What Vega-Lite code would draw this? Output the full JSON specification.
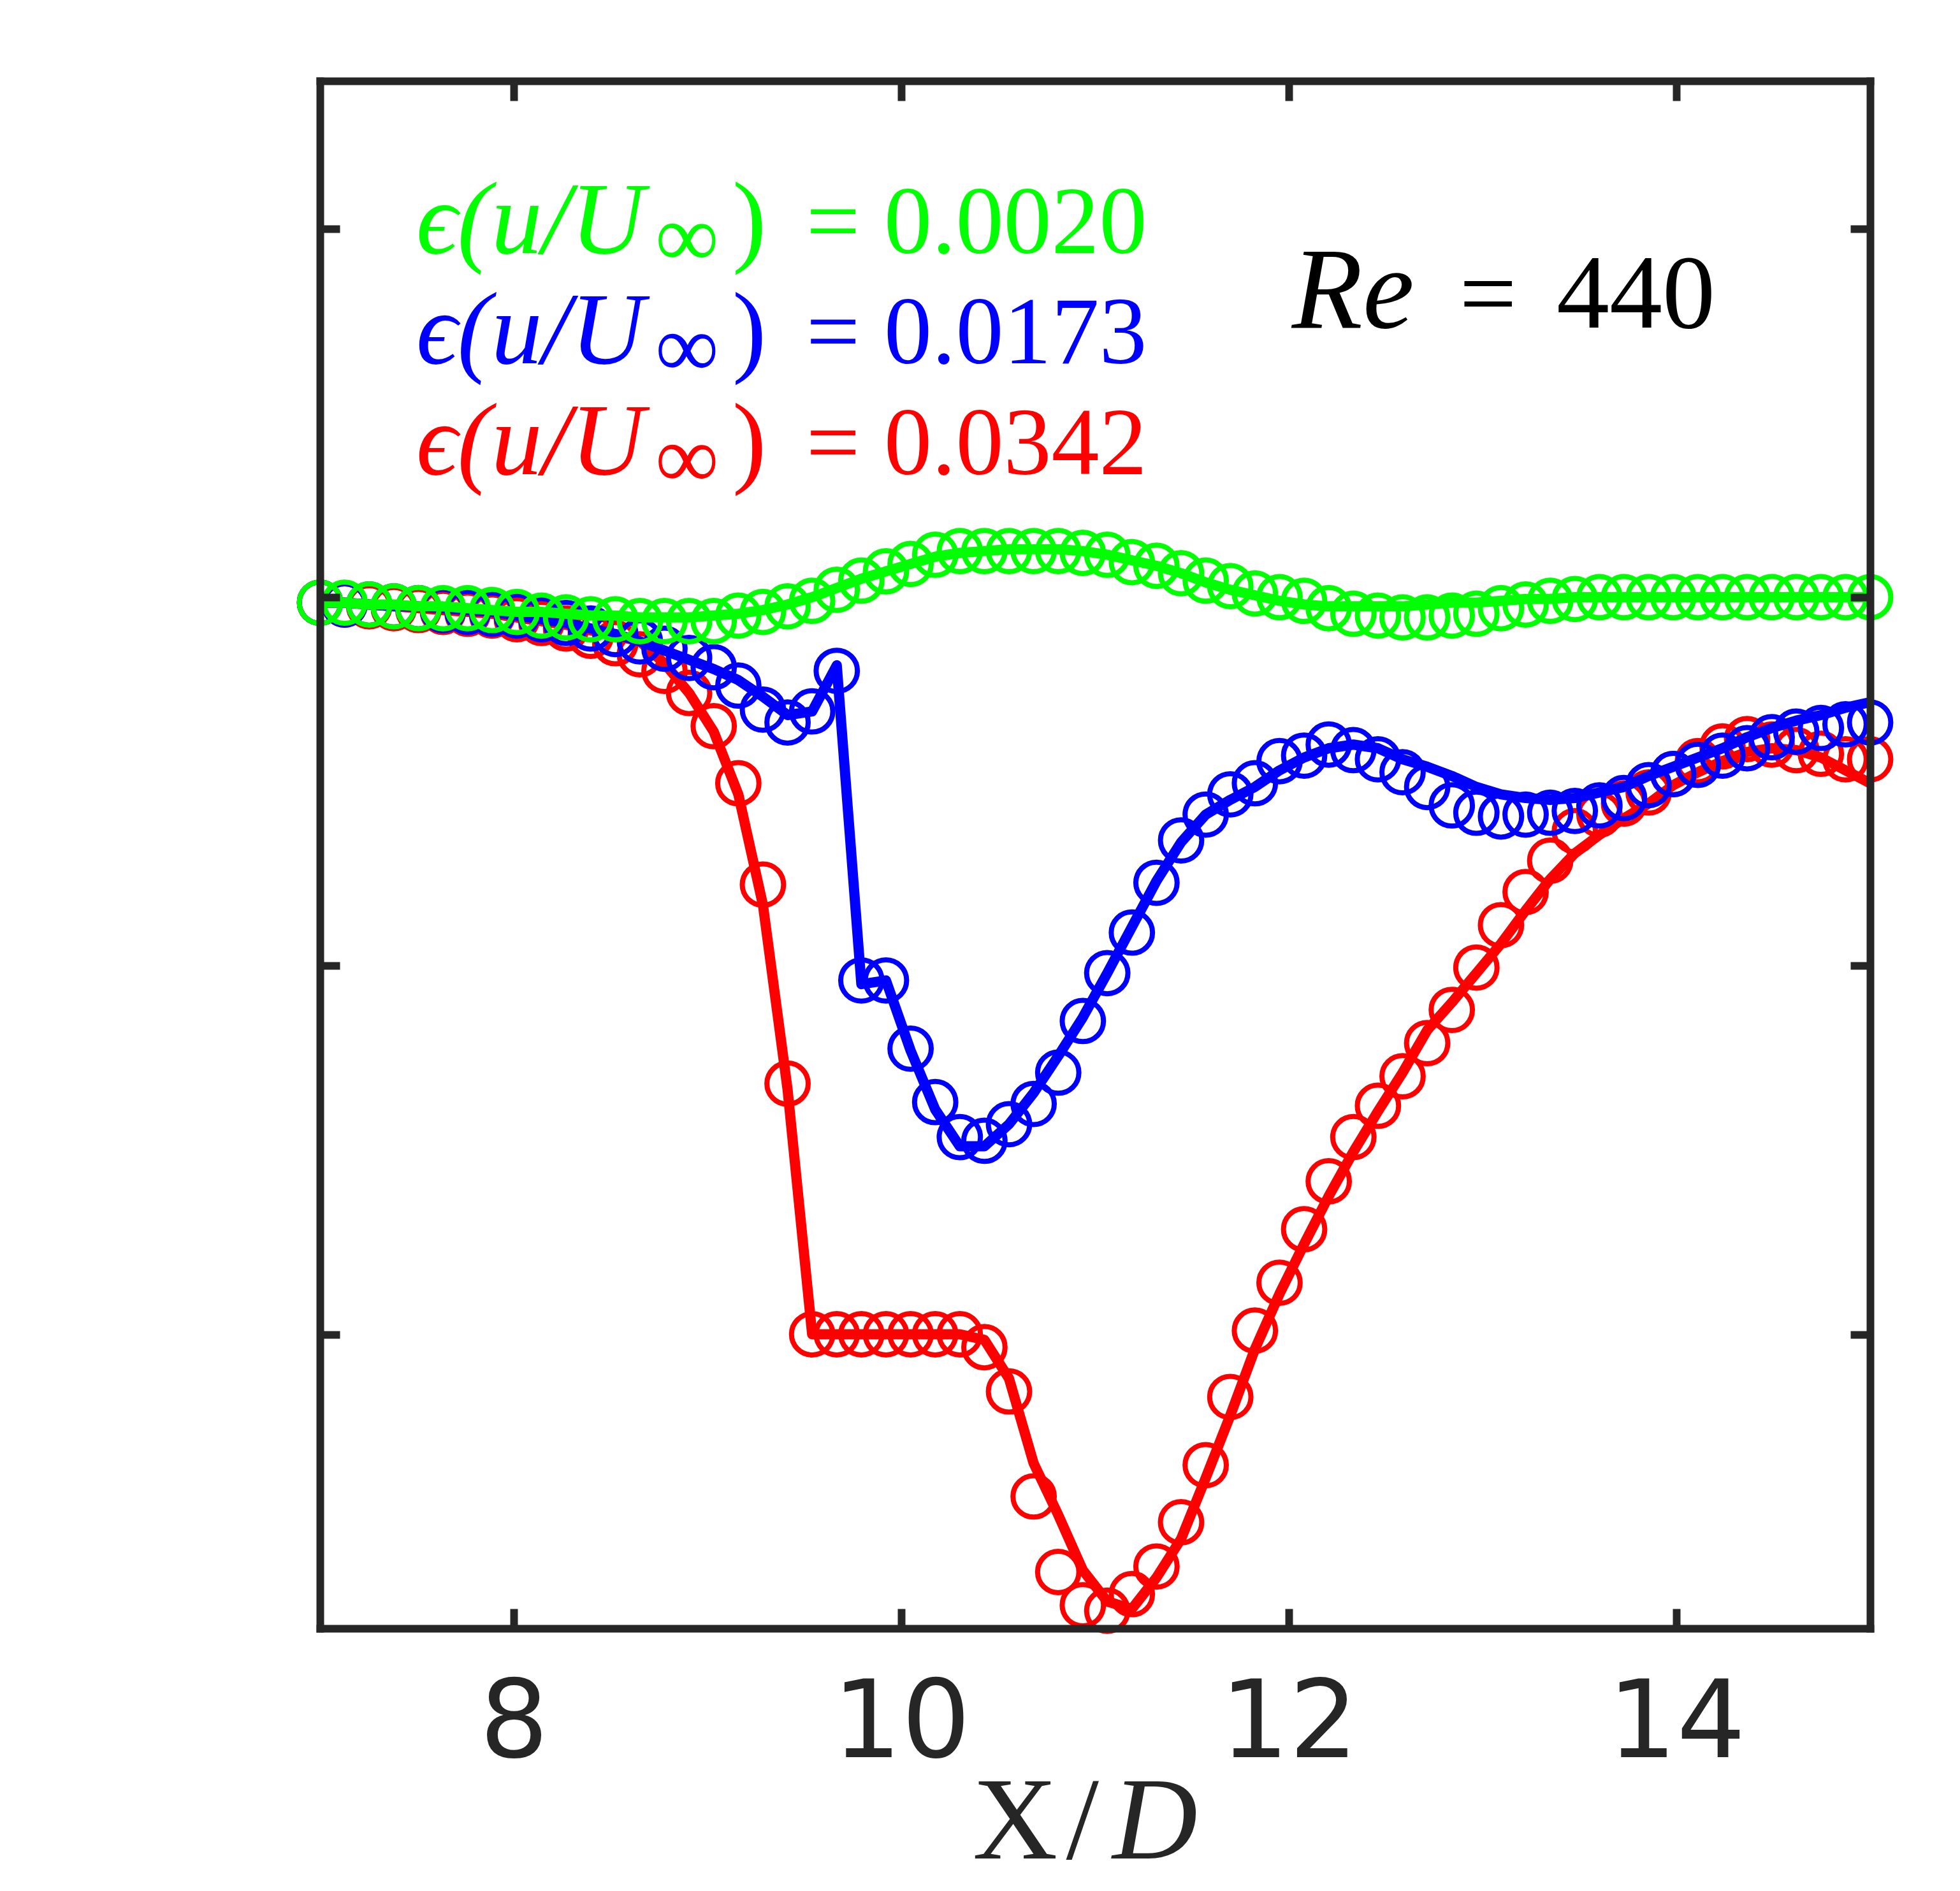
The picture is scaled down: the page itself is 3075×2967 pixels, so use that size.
{
  "$schema": "https://vega.github.io/schema/vega-lite/v6.json",
  "description": "u/U profiles along X/D at Re = 440, three error levels",
  "width": 2432,
  "height": 2428,
  "autosize": {"type": "none"},
  "padding": {"left": 502, "top": 127, "right": 141, "bottom": 412},
  "background": "white",
  "datasets": {
    "profiles": [
      {"x": 7.000, "red_circle": 0.997, "red_line": 0.997, "blue_circle": 0.997, "blue_line": 0.997, "green_circle": 0.997, "green_line": 0.997},
      {"x": 7.127, "red_circle": 0.996, "red_line": 0.997, "blue_circle": 0.996, "blue_line": 0.997, "green_circle": 0.997, "green_line": 0.997},
      {"x": 7.254, "red_circle": 0.995, "red_line": 0.996, "blue_circle": 0.996, "blue_line": 0.996, "green_circle": 0.996, "green_line": 0.996},
      {"x": 7.381, "red_circle": 0.994, "red_line": 0.995, "blue_circle": 0.995, "blue_line": 0.995, "green_circle": 0.995, "green_line": 0.996},
      {"x": 7.508, "red_circle": 0.993, "red_line": 0.994, "blue_circle": 0.994, "blue_line": 0.995, "green_circle": 0.994, "green_line": 0.995},
      {"x": 7.635, "red_circle": 0.992, "red_line": 0.993, "blue_circle": 0.993, "blue_line": 0.994, "green_circle": 0.994, "green_line": 0.995},
      {"x": 7.762, "red_circle": 0.991, "red_line": 0.992, "blue_circle": 0.992, "blue_line": 0.993, "green_circle": 0.994, "green_line": 0.994},
      {"x": 7.889, "red_circle": 0.990, "red_line": 0.991, "blue_circle": 0.991, "blue_line": 0.992, "green_circle": 0.993, "green_line": 0.993},
      {"x": 8.016, "red_circle": 0.988, "red_line": 0.989, "blue_circle": 0.990, "blue_line": 0.990, "green_circle": 0.992, "green_line": 0.992},
      {"x": 8.143, "red_circle": 0.986, "red_line": 0.987, "blue_circle": 0.988, "blue_line": 0.988, "green_circle": 0.990, "green_line": 0.992},
      {"x": 8.270, "red_circle": 0.983, "red_line": 0.985, "blue_circle": 0.986, "blue_line": 0.986, "green_circle": 0.989, "green_line": 0.991},
      {"x": 8.397, "red_circle": 0.979, "red_line": 0.982, "blue_circle": 0.983, "blue_line": 0.983, "green_circle": 0.988, "green_line": 0.990},
      {"x": 8.524, "red_circle": 0.975, "red_line": 0.979, "blue_circle": 0.980, "blue_line": 0.980, "green_circle": 0.988, "green_line": 0.990},
      {"x": 8.651, "red_circle": 0.969, "red_line": 0.976, "blue_circle": 0.976, "blue_line": 0.976, "green_circle": 0.987, "green_line": 0.989},
      {"x": 8.778, "red_circle": 0.960, "red_line": 0.964, "blue_circle": 0.972, "blue_line": 0.971, "green_circle": 0.987, "green_line": 0.989},
      {"x": 8.905, "red_circle": 0.948, "red_line": 0.948, "blue_circle": 0.967, "blue_line": 0.966, "green_circle": 0.987, "green_line": 0.989},
      {"x": 9.032, "red_circle": 0.930, "red_line": 0.927, "blue_circle": 0.962, "blue_line": 0.961, "green_circle": 0.987, "green_line": 0.990},
      {"x": 9.159, "red_circle": 0.899, "red_line": 0.893, "blue_circle": 0.952, "blue_line": 0.955, "green_circle": 0.990, "green_line": 0.991},
      {"x": 9.286, "red_circle": 0.844, "red_line": 0.833, "blue_circle": 0.939, "blue_line": 0.946, "green_circle": 0.992, "green_line": 0.993},
      {"x": 9.413, "red_circle": 0.736, "red_line": 0.733, "blue_circle": 0.932, "blue_line": 0.936, "green_circle": 0.995, "green_line": 0.996},
      {"x": 9.540, "red_circle": 0.600, "red_line": 0.600, "blue_circle": 0.938, "blue_line": 0.938, "green_circle": 0.998, "green_line": 1.000},
      {"x": 9.667, "red_circle": 0.600, "red_line": 0.600, "blue_circle": 0.960, "blue_line": 0.963, "green_circle": 1.004, "green_line": 1.005},
      {"x": 9.794, "red_circle": 0.600, "red_line": 0.600, "blue_circle": 0.792, "blue_line": 0.790, "green_circle": 1.009, "green_line": 1.010},
      {"x": 9.921, "red_circle": 0.600, "red_line": 0.600, "blue_circle": 0.792, "blue_line": 0.792, "green_circle": 1.014, "green_line": 1.014},
      {"x": 10.048, "red_circle": 0.600, "red_line": 0.600, "blue_circle": 0.755, "blue_line": 0.754, "green_circle": 1.018, "green_line": 1.018},
      {"x": 10.175, "red_circle": 0.600, "red_line": 0.600, "blue_circle": 0.726, "blue_line": 0.722, "green_circle": 1.023, "green_line": 1.022},
      {"x": 10.302, "red_circle": 0.600, "red_line": 0.600, "blue_circle": 0.707, "blue_line": 0.702, "green_circle": 1.025, "green_line": 1.024},
      {"x": 10.429, "red_circle": 0.593, "red_line": 0.597, "blue_circle": 0.705, "blue_line": 0.702, "green_circle": 1.025, "green_line": 1.025},
      {"x": 10.556, "red_circle": 0.569, "red_line": 0.576, "blue_circle": 0.714, "blue_line": 0.714, "green_circle": 1.025, "green_line": 1.026},
      {"x": 10.683, "red_circle": 0.512, "red_line": 0.530, "blue_circle": 0.725, "blue_line": 0.731, "green_circle": 1.025, "green_line": 1.026},
      {"x": 10.810, "red_circle": 0.471, "red_line": 0.502, "blue_circle": 0.742, "blue_line": 0.751, "green_circle": 1.025, "green_line": 1.026},
      {"x": 10.937, "red_circle": 0.453, "red_line": 0.472, "blue_circle": 0.770, "blue_line": 0.772, "green_circle": 1.024, "green_line": 1.025},
      {"x": 11.063, "red_circle": 0.450, "red_line": 0.455, "blue_circle": 0.796, "blue_line": 0.796, "green_circle": 1.023, "green_line": 1.023},
      {"x": 11.190, "red_circle": 0.459, "red_line": 0.451, "blue_circle": 0.818, "blue_line": 0.821, "green_circle": 1.019, "green_line": 1.020},
      {"x": 11.317, "red_circle": 0.474, "red_line": 0.468, "blue_circle": 0.845, "blue_line": 0.846, "green_circle": 1.017, "green_line": 1.017},
      {"x": 11.444, "red_circle": 0.498, "red_line": 0.489, "blue_circle": 0.868, "blue_line": 0.867, "green_circle": 1.013, "green_line": 1.013},
      {"x": 11.571, "red_circle": 0.529, "red_line": 0.522, "blue_circle": 0.882, "blue_line": 0.882, "green_circle": 1.009, "green_line": 1.008},
      {"x": 11.698, "red_circle": 0.566, "red_line": 0.556, "blue_circle": 0.893, "blue_line": 0.890, "green_circle": 1.006, "green_line": 1.004},
      {"x": 11.825, "red_circle": 0.602, "red_line": 0.592, "blue_circle": 0.899, "blue_line": 0.897, "green_circle": 1.002, "green_line": 1.001},
      {"x": 11.952, "red_circle": 0.628, "red_line": 0.622, "blue_circle": 0.911, "blue_line": 0.906, "green_circle": 1.000, "green_line": 0.998},
      {"x": 12.079, "red_circle": 0.657, "red_line": 0.649, "blue_circle": 0.914, "blue_line": 0.913, "green_circle": 0.998, "green_line": 0.996},
      {"x": 12.206, "red_circle": 0.683, "red_line": 0.675, "blue_circle": 0.920, "blue_line": 0.918, "green_circle": 0.994, "green_line": 0.995},
      {"x": 12.333, "red_circle": 0.707, "red_line": 0.699, "blue_circle": 0.917, "blue_line": 0.920, "green_circle": 0.991, "green_line": 0.995},
      {"x": 12.460, "red_circle": 0.724, "red_line": 0.721, "blue_circle": 0.912, "blue_line": 0.918, "green_circle": 0.990, "green_line": 0.995},
      {"x": 12.587, "red_circle": 0.740, "red_line": 0.742, "blue_circle": 0.905, "blue_line": 0.912, "green_circle": 0.989, "green_line": 0.995},
      {"x": 12.714, "red_circle": 0.758, "red_line": 0.765, "blue_circle": 0.897, "blue_line": 0.908, "green_circle": 0.989, "green_line": 0.996},
      {"x": 12.841, "red_circle": 0.776, "red_line": 0.780, "blue_circle": 0.887, "blue_line": 0.903, "green_circle": 0.990, "green_line": 0.997},
      {"x": 12.968, "red_circle": 0.799, "red_line": 0.796, "blue_circle": 0.883, "blue_line": 0.897, "green_circle": 0.991, "green_line": 0.997},
      {"x": 13.095, "red_circle": 0.822, "red_line": 0.812, "blue_circle": 0.881, "blue_line": 0.893, "green_circle": 0.994, "green_line": 0.998},
      {"x": 13.222, "red_circle": 0.840, "red_line": 0.830, "blue_circle": 0.882, "blue_line": 0.891, "green_circle": 0.996, "green_line": 0.999},
      {"x": 13.349, "red_circle": 0.857, "red_line": 0.847, "blue_circle": 0.883, "blue_line": 0.890, "green_circle": 0.998, "green_line": 0.999},
      {"x": 13.476, "red_circle": 0.873, "red_line": 0.861, "blue_circle": 0.884, "blue_line": 0.891, "green_circle": 0.999, "green_line": 1.000},
      {"x": 13.603, "red_circle": 0.882, "red_line": 0.871, "blue_circle": 0.887, "blue_line": 0.894, "green_circle": 1.000, "green_line": 1.000},
      {"x": 13.730, "red_circle": 0.888, "red_line": 0.880, "blue_circle": 0.891, "blue_line": 0.897, "green_circle": 1.000, "green_line": 1.000},
      {"x": 13.857, "red_circle": 0.894, "red_line": 0.888, "blue_circle": 0.898, "blue_line": 0.903, "green_circle": 1.000, "green_line": 1.000},
      {"x": 13.984, "red_circle": 0.904, "red_line": 0.898, "blue_circle": 0.904, "blue_line": 0.908, "green_circle": 1.000, "green_line": 1.000},
      {"x": 14.111, "red_circle": 0.911, "red_line": 0.905, "blue_circle": 0.909, "blue_line": 0.913, "green_circle": 1.000, "green_line": 1.000},
      {"x": 14.238, "red_circle": 0.919, "red_line": 0.911, "blue_circle": 0.914, "blue_line": 0.918, "green_circle": 1.000, "green_line": 1.000},
      {"x": 14.365, "red_circle": 0.923, "red_line": 0.916, "blue_circle": 0.918, "blue_line": 0.924, "green_circle": 1.000, "green_line": 1.000},
      {"x": 14.492, "red_circle": 0.920, "red_line": 0.918, "blue_circle": 0.924, "blue_line": 0.929, "green_circle": 1.000, "green_line": 1.000},
      {"x": 14.619, "red_circle": 0.917, "red_line": 0.917, "blue_circle": 0.927, "blue_line": 0.933, "green_circle": 1.000, "green_line": 1.000},
      {"x": 14.746, "red_circle": 0.915, "red_line": 0.913, "blue_circle": 0.929, "blue_line": 0.936, "green_circle": 1.000, "green_line": 1.000},
      {"x": 14.873, "red_circle": 0.912, "red_line": 0.906, "blue_circle": 0.931, "blue_line": 0.940, "green_circle": 1.000, "green_line": 1.000},
      {"x": 15.000, "red_circle": 0.912, "red_line": 0.899, "blue_circle": 0.932, "blue_line": 0.943, "green_circle": 1.000, "green_line": 1.000}
    ],
    "notes": [
      {"part": "lhs", "text": "ϵ(u/U", "x": 7.497, "y": 1.1868, "series": "green"},
      {"part": "sub", "text": "∞", "x": 8.73, "y": 1.1868, "series": "green"},
      {"part": "close", "text": ")", "x": 9.128, "y": 1.1868, "series": "green"},
      {"part": "rhs", "text": "= 0.0020", "x": 11.268, "y": 1.1868, "series": "green"},
      {"part": "lhs", "text": "ϵ(u/U", "x": 7.497, "y": 1.127, "series": "blue"},
      {"part": "sub", "text": "∞", "x": 8.73, "y": 1.127, "series": "blue"},
      {"part": "close", "text": ")", "x": 9.128, "y": 1.127, "series": "blue"},
      {"part": "rhs", "text": "= 0.0173", "x": 11.268, "y": 1.127, "series": "blue"},
      {"part": "lhs", "text": "ϵ(u/U", "x": 7.497, "y": 1.0668, "series": "red"},
      {"part": "sub", "text": "∞", "x": 8.73, "y": 1.0668, "series": "red"},
      {"part": "close", "text": ")", "x": 9.128, "y": 1.0668, "series": "red"},
      {"part": "rhs", "text": "= 0.0342", "x": 11.268, "y": 1.0668, "series": "red"},
      {"part": "re", "text": "Re", "x": 12.016, "y": 1.1464, "series": "black"},
      {"part": "close", "text": "=", "x": 12.88, "y": 1.1464, "series": "black"},
      {"part": "re_rhs", "text": "440", "x": 14.201, "y": 1.1464, "series": "black"},
      {"part": "title_up", "text": "X", "x": 10.368, "y": 0.3156, "series": "axis"},
      {"part": "title_up", "text": "/", "x": 10.85, "y": 0.3156, "series": "axis"},
      {"part": "title_it", "text": "D", "x": 11.09, "y": 0.3156, "series": "axis"}
    ]
  },
  "data": {"name": "profiles"},
  "resolve": {"axis": {"x": "independent", "y": "independent"}},
  "layer": [
    {
      "mark": {"type": "point", "shape": "circle", "filled": false, "size": 4200, "strokeWidth": 8, "color": "#FF0000", "opacity": 1},
      "encoding": {
        "x": {
          "field": "x", "type": "quantitative",
          "scale": {"domain": [7, 15], "nice": false, "zero": false},
          "axis": {
            "orient": "bottom", "values": [8, 10, 12, 14], "format": "d", "title": null,
            "labelFont": "DejaVu Sans", "labelFontSize": 170, "labelColor": "#262626", "labelLimit": 1000,
            "labelBaseline": "alphabetic", "labelPadding": 232, "labelFlush": false, "labelOverlap": false,
            "tickSize": -31, "tickWidth": 12, "tickColor": "#262626",
            "domainColor": "#262626", "domainWidth": 12, "domainCap": "square", "grid": false, "zindex": 1
          }
        },
        "y": {
          "field": "red_circle", "type": "quantitative",
          "scale": {"domain": [0.4404, 1.2801], "nice": false, "zero": false},
          "axis": {
            "orient": "left", "values": [0.6, 0.8, 1.0, 1.2], "labels": false, "title": null,
            "tickSize": -31, "tickWidth": 12, "tickColor": "#262626",
            "domainColor": "#262626", "domainWidth": 12, "domainCap": "square", "grid": false, "zindex": 1
          }
        }
      }
    },
    {
      "mark": {"type": "line", "strokeWidth": 16, "strokeJoin": "round", "color": "#FF0000"},
      "encoding": {
        "x": {"field": "x", "type": "quantitative", "axis": null},
        "y": {"field": "red_line", "type": "quantitative", "axis": null}
      }
    },
    {
      "mark": {"type": "point", "shape": "circle", "filled": false, "size": 4200, "strokeWidth": 8, "color": "#0000FF", "opacity": 1},
      "encoding": {
        "x": {"field": "x", "type": "quantitative", "axis": null},
        "y": {"field": "blue_circle", "type": "quantitative", "axis": null}
      }
    },
    {
      "mark": {"type": "line", "strokeWidth": 16, "strokeJoin": "round", "color": "#0000FF"},
      "encoding": {
        "x": {"field": "x", "type": "quantitative", "axis": null},
        "y": {"field": "blue_line", "type": "quantitative", "axis": null}
      }
    },
    {
      "mark": {"type": "point", "shape": "circle", "filled": false, "size": 4200, "strokeWidth": 8, "color": "#00FF00", "opacity": 1},
      "encoding": {
        "x": {"field": "x", "type": "quantitative", "axis": null},
        "y": {"field": "green_circle", "type": "quantitative", "axis": null}
      }
    },
    {
      "mark": {"type": "line", "strokeWidth": 16, "strokeJoin": "round", "color": "#00FF00"},
      "encoding": {
        "x": {
          "field": "x", "type": "quantitative",
          "axis": {
            "orient": "top", "values": [8, 10, 12, 14], "labels": false, "title": null,
            "tickSize": -31, "tickWidth": 12, "tickColor": "#262626",
            "domainColor": "#262626", "domainWidth": 12, "domainCap": "square", "grid": false, "zindex": 1
          }
        },
        "y": {
          "field": "green_line", "type": "quantitative",
          "axis": {
            "orient": "right", "values": [0.6, 0.8, 1.0, 1.2], "labels": false, "title": null,
            "tickSize": -31, "tickWidth": 12, "tickColor": "#262626",
            "domainColor": "#262626", "domainWidth": 12, "domainCap": "square", "grid": false, "zindex": 1
          }
        }
      }
    },
    {
      "data": {"name": "notes"},
      "transform": [{"filter": "datum.part === 'lhs'"}],
      "mark": {"type": "text", "font": "Liberation Serif", "fontStyle": "italic", "fontSize": 160, "align": "left", "baseline": "alphabetic"},
      "encoding": {
        "x": {"field": "x", "type": "quantitative", "axis": null},
        "y": {"field": "y", "type": "quantitative", "axis": null},
        "text": {"field": "text"},
        "color": {"field": "series", "type": "nominal", "scale": {"domain": ["green", "blue", "red", "black", "axis"], "range": ["#00FF00", "#0000FF", "#FF0000", "#000000", "#262626"]}, "legend": null}
      }
    },
    {
      "data": {"name": "notes"},
      "transform": [{"filter": "datum.part === 'sub'"}],
      "mark": {"type": "text", "font": "Liberation Serif", "fontSize": 140, "align": "left", "baseline": "alphabetic", "dy": 21},
      "encoding": {
        "x": {"field": "x", "type": "quantitative", "axis": null},
        "y": {"field": "y", "type": "quantitative", "axis": null},
        "text": {"field": "text"},
        "color": {"field": "series", "type": "nominal", "legend": null}
      }
    },
    {
      "data": {"name": "notes"},
      "transform": [{"filter": "datum.part === 'close'"}],
      "mark": {"type": "text", "font": "Liberation Serif", "fontSize": 160, "align": "left", "baseline": "alphabetic"},
      "encoding": {
        "x": {"field": "x", "type": "quantitative", "axis": null},
        "y": {"field": "y", "type": "quantitative", "axis": null},
        "text": {"field": "text"},
        "color": {"field": "series", "type": "nominal", "legend": null}
      }
    },
    {
      "data": {"name": "notes"},
      "transform": [{"filter": "datum.part === 'rhs'"}],
      "mark": {"type": "text", "font": "Liberation Serif", "fontSize": 150, "align": "right", "baseline": "alphabetic"},
      "encoding": {
        "x": {"field": "x", "type": "quantitative", "axis": null},
        "y": {"field": "y", "type": "quantitative", "axis": null},
        "text": {"field": "text"},
        "color": {"field": "series", "type": "nominal", "legend": null}
      }
    },
    {
      "data": {"name": "notes"},
      "transform": [{"filter": "datum.part === 're'"}],
      "mark": {"type": "text", "font": "Liberation Serif", "fontStyle": "italic", "fontSize": 182, "align": "left", "baseline": "alphabetic"},
      "encoding": {
        "x": {"field": "x", "type": "quantitative", "axis": null},
        "y": {"field": "y", "type": "quantitative", "axis": null},
        "text": {"field": "text"},
        "color": {"field": "series", "type": "nominal", "legend": null}
      }
    },
    {
      "data": {"name": "notes"},
      "transform": [{"filter": "datum.part === 're_rhs'"}],
      "mark": {"type": "text", "font": "Liberation Serif", "fontSize": 166, "align": "right", "baseline": "alphabetic"},
      "encoding": {
        "x": {"field": "x", "type": "quantitative", "axis": null},
        "y": {"field": "y", "type": "quantitative", "axis": null},
        "text": {"field": "text"},
        "color": {"field": "series", "type": "nominal", "legend": null}
      }
    },
    {
      "data": {"name": "notes"},
      "transform": [{"filter": "datum.part === 'title_up'"}],
      "mark": {"type": "text", "font": "Liberation Serif", "fontSize": 185, "align": "left", "baseline": "alphabetic"},
      "encoding": {
        "x": {"field": "x", "type": "quantitative", "axis": null},
        "y": {"field": "y", "type": "quantitative", "axis": null},
        "text": {"field": "text"},
        "color": {"field": "series", "type": "nominal", "legend": null}
      }
    },
    {
      "data": {"name": "notes"},
      "transform": [{"filter": "datum.part === 'title_it'"}],
      "mark": {"type": "text", "font": "Liberation Serif", "fontStyle": "italic", "fontSize": 185, "align": "left", "baseline": "alphabetic"},
      "encoding": {
        "x": {"field": "x", "type": "quantitative", "axis": null},
        "y": {"field": "y", "type": "quantitative", "axis": null},
        "text": {"field": "text"},
        "color": {"field": "series", "type": "nominal", "legend": null}
      }
    }
  ],
  "config": {
    "view": {"stroke": null},
    "axis": {"grid": false}
  }
}
